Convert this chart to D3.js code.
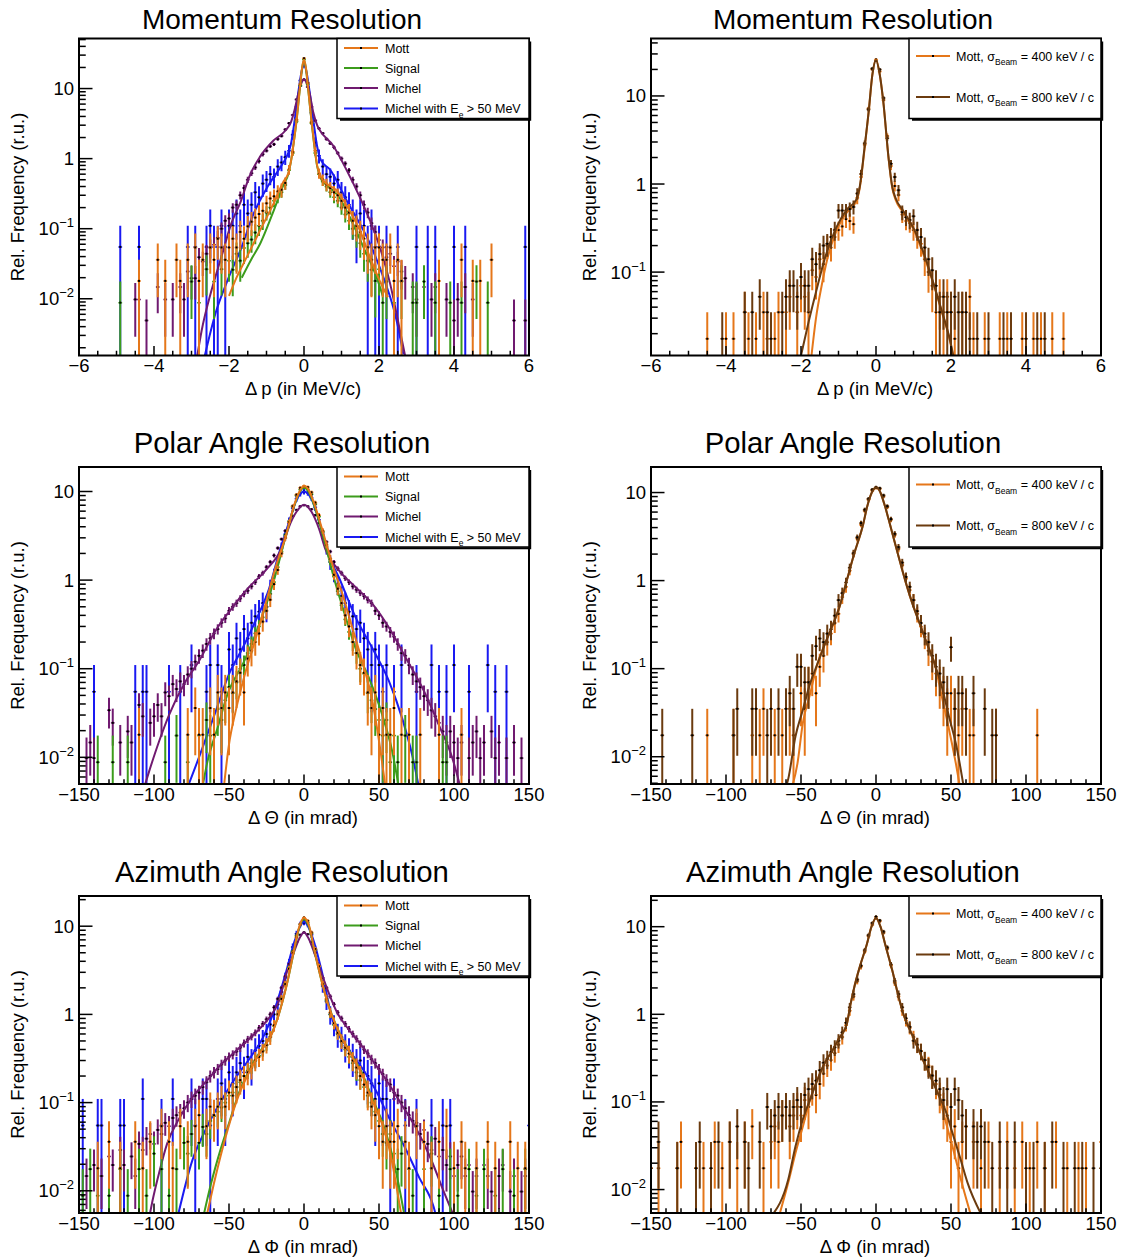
<!DOCTYPE html>
<html>
<head>
<meta charset="utf-8">
<script src="https://cdn.jsdelivr.net/npm/d3@7"></script>
<style>
  body { margin: 0; background: #fff; }
  svg { display: block; font-family: "Liberation Sans", Arial, Helvetica, sans-serif; }
</style>
</head>
<body>
<svg id="chart" width="1122" height="1260"></svg>
<script>
// ---------------------------------------------------------------
// Resolution histograms: bins are [centre, relative frequency].
// Error bars are Poisson errors: one entry of each sample weighs "unit".
// Fit curves are sampled as [x, value] points.
// ---------------------------------------------------------------

const unitMott = 0.018, unitSignal = 0.0088, unitMichel = 0.0049, unitMichelHi = 0.055, unitBeam = 0.0175;

const xTicksMom = [-6, -4, -2, 0, 2, 4, 6];
const xTicksAng = [-150, -100, -50, 0, 50, 100, 150];

// ---------------- Momentum, sample comparison ----------------
const momMott = [[-4.4,0.018],[-3.9,0.036],[-3.7,0.018],[-3.4,0.036],[-3.3,0.018],[-3.1,0.036],[-2.9,0.054],[-2.8,0.018],[-2.7,0.036],[-2.5,0.054],[-2.4,0.036],[-2.3,0.072],[-2.2,0.054],[-2.1,0.036],[-2.0,0.054],[-1.9,0.072],[-1.8,0.054],[-1.7,0.09],[-1.6,0.072],[-1.5,0.108],[-1.4,0.126],[-1.3,0.144],[-1.2,0.162],[-1.1,0.18],[-1.0,0.23],[-0.9,0.27],[-0.8,0.29],[-0.7,0.34],[-0.6,0.36],[-0.5,0.45],[-0.4,0.7],[-0.3,1.25],[-0.2,3.6],[-0.1,11.5],[0,27],[0.1,12],[0.2,3.3],[0.3,1.3],[0.4,0.62],[0.5,0.5],[0.6,0.43],[0.7,0.38],[0.8,0.33],[0.9,0.3],[1.0,0.25],[1.1,0.2],[1.2,0.17],[1.3,0.13],[1.4,0.11],[1.5,0.09],[1.6,0.072],[1.7,0.054],[1.8,0.036],[1.9,0.054],[2.0,0.054],[2.1,0.036],[2.2,0.036],[2.3,0.054],[2.4,0.018],[2.5,0.036],[2.6,0.018],[3.6,0.018],[4.2,0.036],[4.5,0.018],[4.7,0.018],[5.0,0.036]];
const momSignal = [[-4.9,0.0088],[-3.0,0.0176],[-2.8,0.0088],[-2.6,0.0264],[-2.4,0.0176],[-2.2,0.0264],[-2.0,0.035],[-1.9,0.026],[-1.8,0.044],[-1.7,0.035],[-1.6,0.053],[-1.5,0.062],[-1.4,0.07],[-1.3,0.088],[-1.2,0.11],[-1.1,0.13],[-1.0,0.17],[-0.9,0.2],[-0.8,0.25],[-0.7,0.28],[-0.6,0.33],[-0.5,0.42],[-0.4,0.68],[-0.3,1.2],[-0.2,3.4],[-0.1,11],[0,26],[0.1,11.5],[0.2,3.2],[0.3,1.2],[0.4,0.6],[0.5,0.47],[0.6,0.4],[0.7,0.33],[0.8,0.28],[0.9,0.25],[1.0,0.2],[1.1,0.16],[1.2,0.13],[1.3,0.1],[1.4,0.08],[1.5,0.062],[1.6,0.044],[1.7,0.035],[1.8,0.026],[1.9,0.018],[2.0,0.0264],[2.1,0.0088],[2.2,0.0176],[2.4,0.0088],[2.6,0.0176],[2.9,0.0088],[3.0,0.0088],[3.2,0.0176],[3.5,0.0088],[3.9,0.0088],[4.2,0.0088],[4.6,0.0176],[4.9,0.0088]];
const momMichel = [[-4.5,0.0098],[-4.4,0.0098],[-4.2,0.0049],[-3.9,0.0147],[-3.7,0.0098],[-3.5,0.0098],[-3.3,0.0147],[-3.2,0.0098],[-3.1,0.0245],[-3.0,0.0196],[-2.9,0.0196],[-2.8,0.039],[-2.7,0.034],[-2.6,0.044],[-2.5,0.054],[-2.4,0.059],[-2.3,0.074],[-2.2,0.1],[-2.1,0.13],[-2.0,0.14],[-1.9,0.2],[-1.8,0.22],[-1.7,0.3],[-1.6,0.38],[-1.5,0.5],[-1.4,0.62],[-1.3,0.75],[-1.2,0.92],[-1.1,1.15],[-1.0,1.3],[-0.9,1.5],[-0.8,1.6],[-0.7,1.9],[-0.6,2.1],[-0.5,2.6],[-0.4,3.2],[-0.3,4.2],[-0.2,7],[-0.1,11],[0,13.5],[0.1,10.5],[0.2,5.5],[0.3,3.5],[0.4,2.7],[0.5,2.3],[0.6,1.9],[0.7,1.65],[0.8,1.45],[0.9,1.2],[1.0,1.0],[1.1,0.85],[1.2,0.68],[1.3,0.5],[1.4,0.4],[1.5,0.3],[1.6,0.22],[1.7,0.17],[1.8,0.12],[1.9,0.09],[2.0,0.069],[2.1,0.054],[2.2,0.039],[2.3,0.044],[2.4,0.029],[2.5,0.034],[2.6,0.0245],[2.7,0.0196],[2.9,0.0147],[3.0,0.0098],[3.2,0.0147],[3.4,0.0098],[3.5,0.0147],[3.8,0.0098],[4.0,0.0049],[4.1,0.0098],[4.3,0.0147],[4.5,0.0098],[5.6,0.0049],[5.9,0.0049]];
const momMichelHi = [[-4.9,0.055],[-4.4,0.055],[-3.1,0.055],[-2.9,0.055],[-2.6,0.055],[-2.5,0.11],[-2.4,0.055],[-2.3,0.055],[-2.2,0.11],[-2.1,0.055],[-2.0,0.11],[-1.9,0.11],[-1.8,0.165],[-1.7,0.11],[-1.6,0.22],[-1.5,0.165],[-1.4,0.22],[-1.3,0.33],[-1.2,0.28],[-1.1,0.44],[-1.0,0.5],[-0.9,0.6],[-0.8,0.55],[-0.7,0.77],[-0.6,0.88],[-0.5,1.05],[-0.4,1.3],[-0.3,2.2],[-0.2,5.5],[-0.1,13],[0,21],[0.1,12],[0.2,4.5],[0.3,1.7],[0.4,1.1],[0.5,0.77],[0.6,0.6],[0.7,0.55],[0.8,0.44],[0.9,0.5],[1.0,0.33],[1.1,0.28],[1.2,0.22],[1.3,0.165],[1.4,0.11],[1.5,0.165],[1.6,0.11],[1.7,0.055],[1.8,0.11],[1.9,0.055],[2.0,0.055],[2.2,0.055],[2.5,0.055],[3.0,0.055],[3.3,0.055],[3.5,0.055],[4.0,0.055],[4.3,0.055],[5.9,0.055]];
const momMottFit = [[-2.0,0.011],[-1.8,0.02],[-1.53,0.039],[-1.17,0.095],[-0.81,0.23],[-0.55,0.47],[-0.42,0.62],[-0.35,0.9],[-0.28,1.6],[-0.2,3.5],[-0.12,9],[-0.05,20],[0,26],[0.05,20],[0.12,9],[0.2,3.5],[0.28,1.5],[0.35,0.8],[0.45,0.55],[0.56,0.46],[0.87,0.35],[1.22,0.18],[1.49,0.095],[1.76,0.039],[2.02,0.018],[2.24,0.0105]];
const momSignalFit = [[-1.66,0.02],[-1.4,0.037],[-1.17,0.061],[-0.81,0.18],[-0.55,0.42],[-0.42,0.6],[-0.35,0.9],[-0.28,1.6],[-0.2,3.4],[-0.12,8.8],[-0.05,19.5],[0,25.5],[0.05,19.5],[0.12,8.8],[0.2,3.4],[0.28,1.45],[0.35,0.78],[0.45,0.52],[0.6,0.42],[0.9,0.3],[1.22,0.147],[1.58,0.055],[1.94,0.02],[2.1,0.011]];
const momMichelFit = [[-2.85,0.0015],[-2.73,0.0035],[-2.47,0.013],[-2.2,0.04],[-1.94,0.118],[-1.68,0.25],[-1.46,0.55],[-1.18,1.05],[-0.82,1.8],[-0.5,2.5],[-0.35,3.3],[-0.25,5],[-0.15,8.5],[-0.07,12],[0,13.5],[0.07,12],[0.15,8.5],[0.25,4.5],[0.35,3],[0.43,2.5],[0.77,1.55],[1.14,0.68],[1.49,0.28],[1.76,0.13],[2.02,0.055],[2.29,0.017],[2.56,0.0035],[2.7,0.0015]];
const momMichelHiFit = [[-2.65,0.0015],[-2.36,0.0062],[-2.01,0.02],[-1.66,0.055],[-1.38,0.147],[-0.98,0.39],[-0.6,0.8],[-0.45,1.1],[-0.35,1.6],[-0.25,3.5],[-0.15,9],[-0.06,18],[0,21.5],[0.06,18],[0.15,9],[0.25,3.5],[0.35,1.5],[0.45,0.95],[0.69,0.7],[1.14,0.25],[1.76,0.061],[2.12,0.02],[2.47,0.0049],[2.65,0.0016]];

// ---------------- Momentum, beam spread comparison ----------------
const momBeam400 = [[-4.5,0.0175],[-4.0,0.0175],[-3.8,0.0175],[-3.5,0.035],[-3.4,0.0175],[-3.2,0.0175],[-3.0,0.035],[-2.9,0.0175],[-2.7,0.0175],[-2.6,0.035],[-2.4,0.035],[-2.3,0.0525],[-2.1,0.035],[-2.0,0.07],[-1.9,0.0525],[-1.8,0.035],[-1.7,0.105],[-1.6,0.088],[-1.5,0.14],[-1.4,0.123],[-1.3,0.2],[-1.2,0.19],[-1.1,0.25],[-1.0,0.3],[-0.9,0.33],[-0.8,0.4],[-0.7,0.38],[-0.6,0.35],[-0.5,0.7],[-0.4,1.2],[-0.3,2.8],[-0.2,7.2],[-0.1,20],[0,26],[0.1,19],[0.2,9],[0.3,3.5],[0.4,1.6],[0.5,0.95],[0.6,0.75],[0.7,0.45],[0.8,0.38],[0.9,0.36],[1.0,0.3],[1.1,0.25],[1.2,0.21],[1.3,0.14],[1.4,0.1],[1.5,0.07],[1.6,0.035],[1.7,0.0525],[1.8,0.035],[1.9,0.0525],[2.0,0.035],[2.1,0.0175],[2.3,0.035],[2.5,0.0525],[2.6,0.0175],[2.9,0.0175],[3.3,0.0175],[3.5,0.0175],[3.9,0.0175],[4.2,0.0175],[4.4,0.0175],[4.7,0.0175],[5.0,0.0175]];
const momBeam800 = [[-4.1,0.0175],[-3.5,0.035],[-3.3,0.035],[-3.1,0.0525],[-2.9,0.035],[-2.8,0.0175],[-2.5,0.035],[-2.4,0.0525],[-2.3,0.07],[-2.2,0.07],[-2.1,0.0525],[-2.0,0.088],[-1.9,0.07],[-1.8,0.07],[-1.7,0.14],[-1.6,0.123],[-1.5,0.16],[-1.4,0.2],[-1.3,0.21],[-1.2,0.25],[-1.1,0.3],[-1.0,0.5],[-0.9,0.5],[-0.8,0.5],[-0.7,0.52],[-0.6,0.55],[-0.5,0.78],[-0.4,1.3],[-0.3,2.9],[-0.2,7],[-0.1,20.5],[0,25],[0.1,20],[0.2,9.5],[0.3,3.3],[0.4,1.7],[0.5,1.2],[0.6,0.85],[0.7,0.48],[0.8,0.42],[0.9,0.39],[1.0,0.43],[1.1,0.3],[1.2,0.25],[1.3,0.19],[1.4,0.14],[1.5,0.105],[1.6,0.07],[1.7,0.035],[1.8,0.0525],[1.9,0.035],[2.0,0.035],[2.1,0.0525],[2.2,0.035],[2.3,0.035],[2.4,0.035],[2.5,0.0175],[2.7,0.0175],[3.0,0.0175],[3.4,0.0175],[3.6,0.0175],[4.0,0.0175],[4.3,0.0175],[4.5,0.0175]];
const momBeam400Fit = [[-1.72,0.0113],[-1.6,0.03],[-1.45,0.07],[-1.3,0.14],[-1.06,0.29],[-0.77,0.48],[-0.53,0.63],[-0.43,0.92],[-0.31,2.4],[-0.19,6.9],[-0.1,17],[0,26],[0.1,17.5],[0.19,8.9],[0.34,1.86],[0.43,0.92],[0.53,0.65],[0.72,0.48],[1.01,0.3],[1.26,0.16],[1.5,0.081],[1.74,0.037],[1.98,0.016],[2.05,0.0113]];
const momBeam800Fit = [[-2.0,0.0113],[-1.79,0.028],[-1.59,0.062],[-1.35,0.15],[-1.06,0.32],[-0.77,0.52],[-0.53,0.66],[-0.43,0.95],[-0.31,2.5],[-0.19,7],[-0.1,17],[0,25.5],[0.1,17.5],[0.19,9],[0.34,1.9],[0.43,0.95],[0.53,0.68],[0.72,0.5],[1.01,0.31],[1.26,0.17],[1.5,0.083],[1.74,0.038],[1.98,0.0165],[2.06,0.0113]];

// ---------------- Polar angle, sample comparison ----------------
const polMott = [[-110,0.018],[-77.5,0.018],[-72.5,0.036],[-70,0.018],[-67.5,0.018],[-62.5,0.036],[-60,0.018],[-57.5,0.054],[-55,0.036],[-52.5,0.054],[-50,0.036],[-47.5,0.054],[-45,0.072],[-42.5,0.09],[-40,0.054],[-37.5,0.13],[-35,0.16],[-32.5,0.2],[-30,0.25],[-27.5,0.34],[-25,0.45],[-22.5,0.6],[-20,0.9],[-17.5,1.3],[-15,2],[-12.5,3],[-10,4.5],[-7.5,6.8],[-5,9.2],[-2.5,11],[0,11.5],[2.5,11.2],[5,9.8],[7.5,7.5],[10,5.4],[12.5,3.6],[15,2.5],[17.5,1.75],[20,1.15],[22.5,0.8],[25,0.55],[27.5,0.4],[30,0.3],[32.5,0.2],[35,0.15],[37.5,0.11],[40,0.09],[42.5,0.054],[45,0.036],[47.5,0.054],[50,0.018],[52.5,0.036],[55,0.018],[57.5,0.018],[60,0.036],[65,0.018],[70,0.018],[77.5,0.018],[90,0.018],[105,0.018]];
const polSignal = [[-137.5,0.0088],[-127.5,0.0088],[-117.5,0.0088],[-92.5,0.0088],[-85,0.0176],[-77.5,0.0088],[-70,0.0176],[-65,0.0264],[-62.5,0.0176],[-57.5,0.035],[-55,0.0264],[-52.5,0.044],[-50,0.062],[-47.5,0.053],[-45,0.07],[-42.5,0.1],[-40,0.11],[-37.5,0.15],[-35,0.19],[-32.5,0.25],[-30,0.3],[-27.5,0.38],[-25,0.5],[-22.5,0.7],[-20,0.95],[-17.5,1.4],[-15,2.1],[-12.5,3.2],[-10,4.6],[-7.5,6.8],[-5,9],[-2.5,10.5],[0,11],[2.5,10.6],[5,9.3],[7.5,7.2],[10,5.2],[12.5,3.5],[15,2.4],[17.5,1.6],[20,1.1],[22.5,0.75],[25,0.52],[27.5,0.36],[30,0.26],[32.5,0.2],[35,0.15],[37.5,0.1],[40,0.088],[42.5,0.053],[45,0.044],[47.5,0.035],[50,0.0264],[52.5,0.0176],[55,0.0264],[57.5,0.0088],[60,0.0176],[62.5,0.0088],[67.5,0.0176],[72.5,0.0088],[75,0.0088],[92.5,0.0088],[95,0.0088]];
const polMichel = [[-145,0.0098],[-142.5,0.0147],[-140,0.0098],[-130,0.034],[-127.5,0.0245],[-122.5,0.0147],[-117.5,0.0196],[-115,0.0147],[-110,0.039],[-107.5,0.029],[-102.5,0.0245],[-100,0.029],[-97.5,0.039],[-95,0.029],[-92.5,0.054],[-90,0.049],[-87.5,0.067],[-85,0.059],[-82.5,0.072],[-80,0.067],[-77.5,0.086],[-75,0.1],[-72.5,0.12],[-70,0.14],[-67.5,0.16],[-65,0.19],[-62.5,0.22],[-60,0.25],[-57.5,0.28],[-55,0.33],[-52.5,0.37],[-50,0.45],[-47.5,0.5],[-45,0.55],[-42.5,0.62],[-40,0.7],[-37.5,0.76],[-35,0.85],[-32.5,0.95],[-30,1.1],[-27.5,1.2],[-25,1.4],[-22.5,1.6],[-20,1.9],[-17.5,2.3],[-15,2.9],[-12.5,3.6],[-10,4.4],[-7.5,5.3],[-5,6.2],[-2.5,6.8],[0,7],[2.5,6.8],[5,6.3],[7.5,5.4],[10,4.4],[12.5,3.5],[15,2.7],[17.5,2.1],[20,1.6],[22.5,1.35],[25,1.2],[27.5,1.05],[30,0.95],[32.5,0.85],[35,0.78],[37.5,0.72],[40,0.66],[42.5,0.6],[45,0.55],[47.5,0.45],[50,0.4],[52.5,0.33],[55,0.3],[57.5,0.26],[60,0.23],[62.5,0.19],[65,0.15],[67.5,0.14],[70,0.11],[72.5,0.086],[75,0.072],[77.5,0.062],[80,0.049],[82.5,0.044],[85,0.034],[87.5,0.029],[90,0.0245],[92.5,0.0196],[95,0.0147],[97.5,0.0196],[100,0.0147],[102.5,0.0098],[105,0.0147],[110,0.0098],[112.5,0.0147],[115,0.0196],[117.5,0.0098],[120,0.0147],[125,0.0196],[127.5,0.0098],[130,0.0147],[135,0.0098],[140,0.0147],[145,0.0098]];
const polMichelHi = [[-140,0.055],[-112.5,0.055],[-107.5,0.055],[-105,0.055],[-90,0.055],[-82.5,0.055],[-75,0.11],[-65,0.055],[-62.5,0.11],[-57.5,0.11],[-55,0.055],[-50,0.165],[-47.5,0.11],[-45,0.22],[-42.5,0.165],[-40,0.28],[-37.5,0.22],[-35,0.33],[-32.5,0.39],[-30,0.44],[-27.5,0.55],[-25,0.5],[-22.5,0.8],[-20,1.1],[-17.5,1.6],[-15,2.3],[-12.5,3.3],[-10,4.6],[-7.5,6.5],[-5,8.3],[-2.5,9.5],[0,10],[2.5,9.7],[5,8.5],[7.5,6.6],[10,4.8],[12.5,3.3],[15,2.3],[17.5,1.6],[20,1.2],[22.5,0.9],[25,0.66],[27.5,0.55],[30,0.44],[32.5,0.39],[35,0.28],[37.5,0.33],[40,0.22],[42.5,0.165],[45,0.11],[47.5,0.165],[50,0.11],[52.5,0.055],[55,0.11],[60,0.055],[65,0.11],[75,0.055],[85,0.11],[90,0.055],[95,0.055],[100,0.11],[110,0.055],[122.5,0.11],[127.5,0.055],[135,0.055]];
const polMottFit = [[-53.5,0.0045],[-50,0.014],[-45.6,0.033],[-38.9,0.093],[-32.2,0.22],[-25.6,0.54],[-18.9,1.4],[-12,3.2],[-6,7.5],[-3,10],[0,11.6],[3,10.5],[6,8],[12.2,3.7],[18.9,1.5],[25.6,0.7],[32.2,0.29],[38.9,0.12],[45.6,0.043],[51.1,0.0115],[54.4,0.0045]];
const polSignalFit = [[-67.8,0.0045],[-64.4,0.0089],[-57.8,0.021],[-51.1,0.051],[-40,0.12],[-28.9,0.35],[-20,1.0],[-12,3.2],[-6,7.3],[-3,9.8],[0,11],[3,10],[6,7.6],[12,3.5],[20,1.05],[27,0.42],[34.4,0.17],[43.3,0.079],[52.2,0.03],[58.9,0.0115],[63.3,0.0045]];
const polMichelFit = [[-106.7,0.0045],[-103.3,0.0069],[-96.7,0.015],[-90,0.03],[-78.9,0.072],[-70,0.122],[-58.9,0.27],[-47.8,0.49],[-36.7,0.83],[-25.6,1.29],[-14.4,2.4],[-10,4.0],[-5,5.9],[0,7.1],[5,5.9],[10,3.8],[14.4,2.2],[23.3,1.29],[34.4,0.83],[45.6,0.54],[56.7,0.29],[67.8,0.133],[78.9,0.061],[90,0.023],[98.9,0.0098],[104.4,0.0045]];
const polMichelHiFit = [[-77.8,0.0045],[-67.8,0.0126],[-58.9,0.033],[-50,0.087],[-41,0.17],[-32.2,0.35],[-23.3,0.8],[-16.7,2.0],[-10,4.5],[-5,8],[0,10],[5,8.2],[10,4.7],[16,2.0],[23.3,1.07],[34.4,0.38],[45.6,0.17],[56.7,0.072],[65.6,0.027],[72.2,0.0105],[76.7,0.0045]];

// ---------------- Polar angle, beam spread comparison ----------------
const polBeam400 = [[-112.5,0.0175],[-95,0.0175],[-82.5,0.0175],[-77.5,0.0175],[-75,0.035],[-67.5,0.0175],[-62.5,0.0175],[-57.5,0.035],[-55,0.0175],[-50,0.0525],[-47.5,0.035],[-45,0.07],[-42.5,0.088],[-40,0.0525],[-37.5,0.105],[-35,0.14],[-32.5,0.2],[-30,0.25],[-27.5,0.33],[-25,0.42],[-22.5,0.65],[-20,0.85],[-17.5,1.3],[-15,2.0],[-12.5,3.0],[-10,4.3],[-7.5,6.2],[-5,8.3],[-2.5,10.5],[0,11.3],[2.5,11],[5,9],[7.5,6.8],[10,4.9],[12.5,3.3],[15,2.3],[17.5,1.5],[20,1.05],[22.5,0.78],[25,0.6],[27.5,0.42],[30,0.3],[32.5,0.23],[35,0.16],[37.5,0.12],[40,0.088],[42.5,0.07],[45,0.0525],[47.5,0.035],[50,0.0525],[52.5,0.035],[55,0.0175],[57.5,0.035],[62.5,0.0175],[65,0.0175],[80,0.0175],[107.5,0.0175]];
const polBeam800 = [[-142.5,0.0175],[-122.5,0.0175],[-95,0.0175],[-92.5,0.035],[-82.5,0.035],[-80,0.035],[-72.5,0.0175],[-70,0.035],[-65,0.035],[-60,0.035],[-57.5,0.0525],[-55,0.035],[-52.5,0.105],[-50,0.105],[-47.5,0.07],[-45,0.07],[-42.5,0.14],[-40,0.18],[-37.5,0.22],[-35,0.2],[-32.5,0.25],[-30,0.28],[-27.5,0.4],[-25,0.6],[-22.5,0.72],[-20,0.95],[-17.5,1.4],[-15,2.05],[-12.5,3.1],[-10,4.5],[-7.5,6.4],[-5,8.5],[-2.5,10.8],[0,11.5],[2.5,11.2],[5,9.3],[7.5,7],[10,5],[12.5,3.4],[15,2.4],[17.5,1.6],[20,1.1],[22.5,0.85],[25,0.6],[27.5,0.45],[30,0.33],[32.5,0.25],[35,0.2],[37.5,0.14],[40,0.105],[42.5,0.088],[45,0.07],[47.5,0.0525],[50,0.175],[52.5,0.035],[55,0.0525],[57.5,0.0525],[60,0.035],[65,0.0525],[72.5,0.035],[77.5,0.0175],[80,0.0175]];
const polBeam400Fit = [[-56,0.0045],[-52.4,0.0083],[-48.8,0.024],[-43.9,0.052],[-39,0.114],[-34.1,0.19],[-29.3,0.3],[-24.4,0.5],[-19.5,1.0],[-14.6,2.0],[-8.5,4.4],[-6,6.8],[-2,10.6],[0,11.5],[2,10.8],[6,7.0],[8.5,4.9],[14.6,2.0],[19.5,1.0],[24.4,0.54],[29.3,0.32],[34.1,0.19],[39,0.115],[43.9,0.048],[48.8,0.02],[53.7,0.0076],[56,0.0045]];
const polBeam800Fit = [[-60,0.0045],[-58.5,0.0056],[-53.7,0.017],[-48.8,0.034],[-43.9,0.068],[-39,0.114],[-34.1,0.19],[-29.3,0.3],[-24.4,0.5],[-19.5,1.0],[-14.6,2.0],[-8.5,4.4],[-6,6.8],[-2,10.6],[0,11.5],[2,10.8],[6,7.0],[8.5,4.9],[14.6,2.0],[19.5,1.0],[24.4,0.54],[29.3,0.32],[34.1,0.19],[39,0.115],[43.9,0.062],[48.8,0.028],[53.7,0.013],[58.5,0.0045]];

// ---------------- Azimuth angle, sample comparison ----------------
const aziMott = [[-137.5,0.018],[-130,0.036],[-122.5,0.018],[-112.5,0.036],[-107.5,0.018],[-102.5,0.036],[-95,0.054],[-90,0.036],[-87.5,0.018],[-82.5,0.054],[-77.5,0.036],[-72.5,0.054],[-70,0.072],[-65,0.054],[-62.5,0.09],[-60,0.072],[-57.5,0.09],[-55,0.11],[-52.5,0.09],[-50,0.13],[-47.5,0.12],[-45,0.15],[-42.5,0.18],[-40,0.2],[-37.5,0.22],[-35,0.25],[-32.5,0.3],[-30,0.33],[-27.5,0.38],[-25,0.45],[-22.5,0.55],[-20,0.75],[-17.5,1.0],[-15,1.5],[-12.5,2.2],[-10,3.3],[-7.5,5],[-5,7.5],[-2.5,10.5],[0,12.5],[2.5,11.5],[5,8.5],[7.5,5.5],[10,3.5],[12.5,2.2],[15,1.5],[17.5,1.05],[20,0.8],[22.5,0.62],[25,0.5],[27.5,0.42],[30,0.36],[32.5,0.3],[35,0.25],[37.5,0.2],[40,0.16],[42.5,0.13],[45,0.09],[47.5,0.072],[50,0.054],[52.5,0.036],[55,0.054],[57.5,0.036],[60,0.036],[62.5,0.054],[67.5,0.036],[70,0.018],[75,0.054],[80,0.036],[85,0.018],[90,0.036],[95,0.054],[100,0.018],[105,0.036],[107.5,0.018],[115,0.018],[122.5,0.036],[127.5,0.018],[137.5,0.036],[142.5,0.018],[147.5,0.018]];
const aziSignal = [[-147.5,0.0088],[-142.5,0.0176],[-137.5,0.0088],[-130,0.0088],[-122.5,0.0176],[-117.5,0.0088],[-110,0.0176],[-105,0.0088],[-100,0.0264],[-95,0.0176],[-90,0.0088],[-85,0.0176],[-80,0.035],[-77.5,0.0264],[-75,0.044],[-70,0.035],[-67.5,0.053],[-65,0.044],[-62.5,0.062],[-60,0.07],[-57.5,0.079],[-55,0.088],[-52.5,0.1],[-50,0.12],[-47.5,0.13],[-45,0.15],[-42.5,0.17],[-40,0.2],[-37.5,0.23],[-35,0.26],[-32.5,0.3],[-30,0.34],[-27.5,0.39],[-25,0.45],[-22.5,0.56],[-20,0.74],[-17.5,1.0],[-15,1.5],[-12.5,2.2],[-10,3.4],[-7.5,5.2],[-5,7.8],[-2.5,10.5],[0,12],[2.5,11],[5,8.3],[7.5,5.4],[10,3.5],[12.5,2.2],[15,1.45],[17.5,1.0],[20,0.76],[22.5,0.6],[25,0.49],[27.5,0.4],[30,0.33],[32.5,0.28],[35,0.22],[37.5,0.18],[40,0.15],[42.5,0.12],[45,0.1],[47.5,0.079],[50,0.062],[52.5,0.044],[55,0.035],[57.5,0.044],[60,0.0264],[62.5,0.0176],[65,0.0264],[70,0.0176],[72.5,0.0088],[80,0.0176],[85,0.0264],[90,0.0088],[97.5,0.0176],[102.5,0.0088],[110,0.0176],[115,0.0088],[120,0.0176],[127.5,0.0088],[132.5,0.0176],[140,0.0088],[147.5,0.0176]];
const aziMichel = [[-150,0.0098],[-145,0.0147],[-140,0.0196],[-135,0.0147],[-130,0.0245],[-127.5,0.0196],[-122.5,0.029],[-120,0.0196],[-115,0.0245],[-112.5,0.0147],[-110,0.034],[-107.5,0.029],[-105,0.039],[-102.5,0.044],[-100,0.034],[-97.5,0.049],[-95,0.044],[-92.5,0.059],[-90,0.054],[-87.5,0.067],[-85,0.072],[-82.5,0.077],[-80,0.086],[-77.5,0.1],[-75,0.11],[-72.5,0.12],[-70,0.13],[-67.5,0.15],[-65,0.17],[-62.5,0.2],[-60,0.22],[-57.5,0.24],[-55,0.27],[-52.5,0.3],[-50,0.33],[-47.5,0.35],[-45,0.38],[-42.5,0.42],[-40,0.47],[-37.5,0.52],[-35,0.56],[-32.5,0.62],[-30,0.7],[-27.5,0.78],[-25,0.88],[-22.5,1.0],[-20,1.2],[-17.5,1.5],[-15,2.0],[-12.5,2.7],[-10,3.7],[-7.5,5],[-5,6.6],[-2.5,8],[0,8.5],[2.5,8.1],[5,6.6],[7.5,5],[10,3.6],[12.5,2.6],[15,2.0],[17.5,1.6],[20,1.3],[22.5,1.05],[25,0.9],[27.5,0.78],[30,0.68],[32.5,0.6],[35,0.53],[37.5,0.46],[40,0.4],[42.5,0.36],[45,0.31],[47.5,0.28],[50,0.24],[52.5,0.21],[55,0.18],[57.5,0.16],[60,0.13],[62.5,0.12],[65,0.1],[67.5,0.086],[70,0.072],[72.5,0.062],[75,0.059],[77.5,0.044],[80,0.049],[82.5,0.034],[85,0.029],[87.5,0.039],[90,0.0245],[92.5,0.029],[95,0.0196],[97.5,0.0245],[100,0.0147],[102.5,0.0196],[105,0.0245],[107.5,0.0147],[110,0.0196],[112.5,0.0098],[115,0.0147],[120,0.0196],[122.5,0.0147],[125,0.0098],[130,0.0147],[132.5,0.0196],[137.5,0.0098],[140,0.0147],[145,0.0098],[147.5,0.0147]];
const aziMichelHi = [[-147.5,0.055],[-137.5,0.055],[-135,0.055],[-122.5,0.055],[-120,0.055],[-107.5,0.11],[-95,0.055],[-87.5,0.11],[-75,0.11],[-72.5,0.055],[-67.5,0.11],[-65,0.11],[-62.5,0.055],[-57.5,0.11],[-55,0.165],[-52.5,0.11],[-50,0.22],[-47.5,0.165],[-45,0.22],[-42.5,0.28],[-40,0.22],[-37.5,0.33],[-35,0.28],[-32.5,0.39],[-30,0.44],[-27.5,0.5],[-25,0.6],[-22.5,0.77],[-20,1.0],[-17.5,1.3],[-15,1.8],[-12.5,2.6],[-10,3.8],[-7.5,5.8],[-5,8.2],[-2.5,10.5],[0,11],[2.5,10.5],[5,8],[7.5,5.5],[10,3.5],[12.5,2.1],[15,1.4],[17.5,1.0],[20,0.77],[22.5,0.6],[25,0.55],[27.5,0.44],[30,0.39],[32.5,0.33],[35,0.28],[37.5,0.3],[40,0.22],[42.5,0.2],[45,0.165],[47.5,0.11],[50,0.165],[52.5,0.11],[55,0.11],[57.5,0.055],[60,0.11],[67.5,0.055],[75,0.055],[85,0.055],[92.5,0.055],[97.5,0.055],[150,0.055]];
const aziMottFit = [[-64.9,0.0052],[-60.1,0.012],[-55.3,0.026],[-50.5,0.052],[-43.3,0.124],[-36,0.23],[-28.8,0.38],[-21.6,0.59],[-16.8,1.0],[-12,2.0],[-7,5],[-3.5,9.5],[0,12.5],[3.5,10],[7,5.3],[12,2.3],[16.8,1.19],[24,0.59],[31.3,0.35],[38.5,0.21],[45.7,0.104],[52.9,0.052],[57.7,0.026],[62.5,0.0092],[65,0.0052]];
const aziSignalFit = [[-67,0.0052],[-62,0.012],[-56,0.028],[-50.5,0.055],[-43.3,0.13],[-36,0.24],[-28.8,0.39],[-21.6,0.6],[-16.8,1.0],[-12,2.0],[-7,4.9],[-3.5,9.2],[0,12],[3.5,9.6],[7,5.2],[12,2.3],[16.8,1.2],[24,0.6],[31.3,0.36],[38.5,0.22],[45.7,0.11],[52.9,0.056],[57.7,0.03],[63,0.012],[67,0.0052]];
const aziMichelFit = [[-103,0.0052],[-101,0.0077],[-96.2,0.017],[-91.3,0.034],[-84.1,0.062],[-74.5,0.114],[-64.9,0.176],[-55.3,0.27],[-45.7,0.38],[-36,0.54],[-28.8,0.71],[-21.6,1.0],[-16.8,1.4],[-12,2.8],[-7.2,4.8],[-3,7.3],[0,8.5],[3,7.3],[7.2,4.8],[12,2.8],[16.8,1.7],[21.6,1.09],[28.8,0.71],[36,0.5],[45.7,0.3],[55.3,0.176],[64.9,0.096],[74.5,0.052],[84.1,0.024],[93.8,0.0092],[99.8,0.0052]];
const aziMichelHiFit = [[-84.1,0.0052],[-74.5,0.022],[-64.9,0.052],[-55.3,0.104],[-45.7,0.19],[-36,0.32],[-26.4,0.59],[-19.2,1.19],[-12,3.0],[-6,7],[0,11.2],[6,7.2],[12,3.0],[19.2,0.84],[28.8,0.42],[38.5,0.25],[48.1,0.135],[57.7,0.062],[67.3,0.031],[76.9,0.014],[86.5,0.0065],[88,0.0052]];

// ---------------- Azimuth angle, beam spread comparison ----------------
const aziBeam400 = [[-150,0.0175],[-145,0.0175],[-132.5,0.0175],[-130,0.035],[-120,0.0175],[-115,0.0175],[-107.5,0.035],[-102.5,0.0175],[-97.5,0.035],[-92.5,0.0175],[-87.5,0.035],[-82.5,0.0525],[-75,0.0175],[-70,0.035],[-67.5,0.0525],[-65,0.035],[-62.5,0.07],[-57.5,0.0525],[-55,0.07],[-52.5,0.088],[-50,0.07],[-47.5,0.105],[-45,0.088],[-42.5,0.14],[-40,0.12],[-37.5,0.16],[-35,0.21],[-32.5,0.26],[-30,0.3],[-27.5,0.36],[-25,0.45],[-22.5,0.55],[-20,0.75],[-17.5,1.1],[-15,1.6],[-12.5,2.4],[-10,3.5],[-7.5,5.2],[-5,7.8],[-2.5,10.5],[0,12.5],[2.5,11.5],[5,8.5],[7.5,5.6],[10,3.6],[12.5,2.3],[15,1.6],[17.5,1.1],[20,0.85],[22.5,0.7],[25,0.55],[27.5,0.45],[30,0.38],[32.5,0.3],[35,0.26],[37.5,0.2],[40,0.16],[42.5,0.12],[45,0.088],[47.5,0.07],[50,0.035],[52.5,0.0525],[55,0.0175],[57.5,0.035],[60,0.0525],[65,0.035],[70,0.0175],[75,0.035],[82.5,0.0175],[87.5,0.035],[92.5,0.0175],[97.5,0.035],[102.5,0.0175],[107.5,0.035],[112.5,0.0175],[120,0.035],[127.5,0.0175],[135,0.0175],[140,0.0175],[150,0.035]];
const aziBeam800 = [[-150,0.0175],[-145,0.035],[-132.5,0.0175],[-120,0.0175],[-117.5,0.035],[-110,0.0175],[-105,0.035],[-97.5,0.035],[-92.5,0.0525],[-87.5,0.035],[-85,0.0175],[-77.5,0.035],[-72.5,0.0875],[-70,0.0525],[-67.5,0.07],[-65,0.0875],[-62.5,0.07],[-60,0.0875],[-57.5,0.07],[-55,0.0875],[-52.5,0.105],[-50,0.0875],[-47.5,0.12],[-45,0.14],[-42.5,0.16],[-40,0.175],[-37.5,0.23],[-35,0.28],[-32.5,0.31],[-30,0.37],[-27.5,0.42],[-25,0.5],[-22.5,0.62],[-20,0.8],[-17.5,1.2],[-15,1.7],[-12.5,2.5],[-10,3.6],[-7.5,5.4],[-5,8],[-2.5,11],[0,13],[2.5,11.8],[5,8.8],[7.5,5.8],[10,3.7],[12.5,2.4],[15,1.7],[17.5,1.2],[20,0.9],[22.5,0.72],[25,0.5],[27.5,0.45],[30,0.38],[32.5,0.3],[35,0.25],[37.5,0.2],[40,0.175],[42.5,0.14],[45,0.105],[47.5,0.14],[50,0.0875],[52.5,0.14],[55,0.105],[57.5,0.07],[60,0.0525],[65,0.0525],[67.5,0.035],[70,0.0525],[72.5,0.035],[77.5,0.0175],[82.5,0.035],[87.5,0.0175],[92.5,0.035],[100,0.0175],[105,0.0175],[112.5,0.0175],[117.5,0.035],[125,0.0175],[132.5,0.0175],[137.5,0.0175],[145,0.0175],[150,0.0175]];
const aziBeam400Fit = [[-64.6,0.005],[-58.5,0.012],[-53.7,0.026],[-48.8,0.052],[-43.9,0.107],[-39,0.18],[-34.1,0.28],[-29.3,0.38],[-24.4,0.54],[-19.5,0.77],[-17,1.3],[-14.6,2.0],[-11,3.4],[-6.1,6.3],[-3,10],[0,12.5],[3,10],[6.1,6.3],[11,3.1],[14.6,1.7],[18.3,1.0],[22,0.7],[26.8,0.46],[31.7,0.29],[36.6,0.19],[41.5,0.123],[46.3,0.061],[51.2,0.03],[56.1,0.014],[63.4,0.005]];
const aziBeam800Fit = [[-69.5,0.005],[-58.5,0.013],[-53.7,0.031],[-48.8,0.063],[-43.9,0.107],[-39,0.18],[-34.1,0.28],[-29.3,0.38],[-24.4,0.54],[-19.5,0.77],[-17,1.3],[-14.6,2.0],[-11,3.4],[-6.1,6.3],[-3,10],[0,12.6],[3,10],[6.1,6.3],[11,3.1],[14.6,1.7],[18.3,1.0],[22,0.7],[26.8,0.46],[31.7,0.29],[36.6,0.19],[41.5,0.123],[46.3,0.08],[51.2,0.043],[56.1,0.023],[61,0.012],[70.7,0.005]];

// ---------------- styling ----------------
const colMott = '#e5771a', colSignal = '#3c9c1c', colMichel = '#701a70', colMichelHi = '#1a1af2';
const colBeam400 = '#e5771a', colBeam800 = '#6b3b0f';

const legendSamples = [
  { color: colMott, parts: [{ t: 'Mott' }] },
  { color: colSignal, parts: [{ t: 'Signal' }] },
  { color: colMichel, parts: [{ t: 'Michel' }] },
  { color: colMichelHi, parts: [{ t: 'Michel with E' }, { t: 'e', sub: true }, { t: ' > 50 MeV' }] }
];
const legendBeam = [
  { color: colBeam400, parts: [{ t: 'Mott, \u03c3' }, { t: 'Beam', sub: true }, { t: ' = 400 keV / c' }] },
  { color: colBeam800, parts: [{ t: 'Mott, \u03c3' }, { t: 'Beam', sub: true }, { t: ' = 800 keV / c' }] }
];

function samples(mott, signal, michel, michelHi, fits) {
  // drawn back to front: high-energy Michel first, Mott last
  return [
    { color: colMichelHi, unit: unitMichelHi, data: michelHi, fit: fits[3] },
    { color: colMichel, unit: unitMichel, data: michel, fit: fits[2] },
    { color: colSignal, unit: unitSignal, data: signal, fit: fits[1] },
    { color: colMott, unit: unitMott, data: mott, fit: fits[0] }
  ];
}
function beams(b400, b800, f400, f800) {
  return [
    { color: colBeam400, unit: unitBeam, data: b400, fit: f400 },
    { color: colBeam800, unit: unitBeam, data: b800, fit: f800 }
  ];
}

const leftX = [79, 529], rightX = [651, 1101];
const rows = [
  { top: 38.5, bottom: 355.5, titleY: 29, titleSize: 28 },
  { top: 467, bottom: 784, titleY: 453, titleSize: 29.3 },
  { top: 896, bottom: 1213, titleY: 882, titleSize: 29.3 }
];

const panels = [
  { cols: leftX, row: rows[0], titleX: 282, title: 'Momentum Resolution', xTitle: '\u0394 p (in MeV/c)',
    xDomain: [-6, 6], yDomain: [0.00155, 51.8], xTicks: xTicksMom, xMinor: 0.5, binWidth: 0.1,
    legend: legendSamples, legendKind: 'samples',
    series: samples(momMott, momSignal, momMichel, momMichelHi, [momMottFit, momSignalFit, momMichelFit, momMichelHiFit]) },
  { cols: rightX, row: rows[0], titleX: 853, title: 'Momentum Resolution', xTitle: '\u0394 p (in MeV/c)',
    xDomain: [-6, 6], yDomain: [0.0113, 44.9], xTicks: xTicksMom, xMinor: 0.5, binWidth: 0.1,
    legend: legendBeam, legendKind: 'beam',
    series: beams(momBeam400, momBeam800, momBeam400Fit, momBeam800Fit) },
  { cols: leftX, row: rows[1], titleX: 282, title: 'Polar Angle Resolution', xTitle: '\u0394 \u0398 (in mrad)',
    xDomain: [-150, 150], yDomain: [0.0050, 18.9], xTicks: xTicksAng, xMinor: 10, binWidth: 2.5,
    legend: legendSamples, legendKind: 'samples',
    series: samples(polMott, polSignal, polMichel, polMichelHi, [polMottFit, polSignalFit, polMichelFit, polMichelHiFit]) },
  { cols: rightX, row: rows[1], titleX: 853, title: 'Polar Angle Resolution', xTitle: '\u0394 \u0398 (in mrad)',
    xDomain: [-150, 150], yDomain: [0.0049, 19.5], xTicks: xTicksAng, xMinor: 10, binWidth: 2.5,
    legend: legendBeam, legendKind: 'beam',
    series: beams(polBeam400, polBeam800, polBeam400Fit, polBeam800Fit) },
  { cols: leftX, row: rows[2], titleX: 282, title: 'Azimuth Angle Resolution', xTitle: '\u0394 \u03a6 (in mrad)',
    xDomain: [-150, 150], yDomain: [0.0056, 22], xTicks: xTicksAng, xMinor: 10, binWidth: 2.5,
    legend: legendSamples, legendKind: 'samples',
    series: samples(aziMott, aziSignal, aziMichel, aziMichelHi, [aziMottFit, aziSignalFit, aziMichelFit, aziMichelHiFit]) },
  { cols: rightX, row: rows[2], titleX: 853, title: 'Azimuth Angle Resolution', xTitle: '\u0394 \u03a6 (in mrad)',
    xDomain: [-150, 150], yDomain: [0.0054, 22.4], xTicks: xTicksAng, xMinor: 10, binWidth: 2.5,
    legend: legendBeam, legendKind: 'beam',
    series: beams(aziBeam400, aziBeam800, aziBeam400Fit, aziBeam800Fit) }
];

const svg = d3.select('#chart');
const defs = svg.append('defs');

const minus = v => (v < 0 ? '\u2212' + Math.abs(v) : String(v));

// legend text with subscripts: each run is its own tspan, shifted down for subscripts
function addParts(textSel, parts, fontSize) {
  let shift = 0;
  parts.forEach(p => {
    const ts = textSel.append('tspan').text(p.t);
    if (p.sub) {
      ts.attr('dy', 4.5).attr('font-size', fontSize * 0.68);
      shift = 4.5;
    } else if (shift) {
      ts.attr('dy', -shift);
      shift = 0;
    }
  });
}

function drawPanel(p, idx) {
  const [left, right] = p.cols;
  const { top, bottom } = p.row;
  const x = d3.scaleLinear().domain(p.xDomain).range([left, right]);
  const y = d3.scaleLog().domain(p.yDomain).range([bottom, top]);
  const g = svg.append('g');

  // title
  g.append('text').attr('x', p.titleX).attr('y', p.row.titleY)
    .attr('text-anchor', 'middle').attr('font-size', p.row.titleSize).attr('fill', '#000').text(p.title);

  // plot area
  const clipId = 'clip' + idx;
  defs.append('clipPath').attr('id', clipId).append('rect')
    .attr('x', left).attr('y', top).attr('width', right - left).attr('height', bottom - top);
  const plot = g.append('g').attr('clip-path', `url(#${clipId})`);

  const ymin = p.yDomain[0];
  const half = p.binWidth / 2;
  const line = d3.line().x(d => x(d[0])).y(d => y(d[1])).curve(d3.curveMonotoneX);

  p.series.forEach(s => {
    const sg = plot.append('g');
    const pts = s.data.map(([c, v]) => {
      const err = Math.sqrt(v * s.unit);
      return { c, v, hi: v + err, lo: v - err };
    });
    sg.selectAll('line.ev').data(pts).join('line').attr('class', 'ev')
      .attr('x1', d => x(d.c)).attr('x2', d => x(d.c))
      .attr('y1', d => y(d.hi))
      .attr('y2', d => (d.lo > ymin ? y(d.lo) : bottom + 4))
      .attr('stroke', s.color).attr('stroke-width', 2);
    sg.selectAll('line.eh').data(pts.filter(d => d.v > ymin)).join('line').attr('class', 'eh')
      .attr('x1', d => x(d.c - half)).attr('x2', d => x(d.c + half))
      .attr('y1', d => y(d.v)).attr('y2', d => y(d.v))
      .attr('stroke', s.color).attr('stroke-width', 1.5);
    sg.selectAll('rect.mk').data(pts.filter(d => d.v > ymin)).join('rect').attr('class', 'mk')
      .attr('x', d => x(d.c) - 1).attr('y', d => y(d.v) - 1)
      .attr('width', 2).attr('height', 2).attr('fill', '#000');
    sg.append('path').datum(s.fit).attr('d', line)
      .attr('fill', 'none').attr('stroke', s.color).attr('stroke-width', 2);
  });

  // frame
  g.append('rect').attr('x', left).attr('y', top).attr('width', right - left).attr('height', bottom - top)
    .attr('fill', 'none').attr('stroke', '#000').attr('stroke-width', 2);

  // x axis ticks (inside the frame) and labels
  const xMinorVals = d3.range(p.xDomain[0], p.xDomain[1] + p.xMinor / 2, p.xMinor)
    .filter(v => !p.xTicks.some(t => Math.abs(t - v) < 1e-9));
  g.selectAll('line.xmin').data(xMinorVals).join('line')
    .attr('x1', d => x(d)).attr('x2', d => x(d)).attr('y1', bottom).attr('y2', bottom - 4.75)
    .attr('stroke', '#000').attr('stroke-width', 1.5);
  g.selectAll('line.xmaj').data(p.xTicks).join('line')
    .attr('x1', d => x(d)).attr('x2', d => x(d)).attr('y1', bottom).attr('y2', bottom - 9.5)
    .attr('stroke', '#000').attr('stroke-width', 1.5);
  g.selectAll('text.xl').data(p.xTicks).join('text')
    .attr('x', d => x(d)).attr('y', bottom + 16.5).attr('text-anchor', 'middle')
    .attr('font-size', 18.5).attr('fill', '#000').text(d => minus(d));

  // y axis (log) ticks and decade labels
  const lo = Math.floor(Math.log10(p.yDomain[0])), hi = Math.ceil(Math.log10(p.yDomain[1]));
  const yMinorVals = [], yMajorVals = [];
  for (let e = lo; e <= hi; e++) {
    for (let k = 1; k <= 9; k++) {
      const v = k * Math.pow(10, e);
      if (v < p.yDomain[0] * 0.9999 || v > p.yDomain[1]) continue;
      (k === 1 ? yMajorVals : yMinorVals).push(v);
    }
  }
  g.selectAll('line.ymin').data(yMinorVals).join('line')
    .attr('x1', left).attr('x2', left + 6.75).attr('y1', d => y(d)).attr('y2', d => y(d))
    .attr('stroke', '#000').attr('stroke-width', 1.5);
  g.selectAll('line.ymaj').data(yMajorVals).join('line')
    .attr('x1', left).attr('x2', left + 13.5).attr('y1', d => y(d)).attr('y2', d => y(d))
    .attr('stroke', '#000').attr('stroke-width', 1.5);
  g.selectAll('text.yl').data(yMajorVals).join('text')
    .attr('x', left - 5).attr('y', d => y(d) + 6.5).attr('text-anchor', 'end')
    .attr('font-size', 18.5).attr('fill', '#000')
    .each(function (d) {
      const e = Math.round(Math.log10(d));
      const t = d3.select(this);
      if (e === 0) t.text('1');
      else if (e === 1) t.text('10');
      else {
        t.append('tspan').text('10');
        t.append('tspan').attr('dy', -8).attr('font-size', 13).text('\u2212' + Math.abs(e));
      }
    });

  // axis titles
  g.append('text').attr('x', (left + right) / 2 - 1).attr('y', bottom + 39.5)
    .attr('text-anchor', 'middle').attr('font-size', 18.5).attr('fill', '#000').text(p.xTitle);
  const ytx = left - 55, yty = (top + bottom) / 2;
  g.append('text').attr('transform', `translate(${ytx},${yty}) rotate(-90)`)
    .attr('text-anchor', 'middle').attr('font-size', 18.5).attr('fill', '#000').text('Rel. Frequency (r.u.)');

  // legend
  const lx0 = right - 192, lx1 = right, ly0 = top, ly1 = top + 80;
  const lg = g.append('g');
  lg.append('path')
    .attr('d', `M${lx0 + 3},${ly1 + 1.2}H${lx1 + 1.2}V${ly0 + 3}`)
    .attr('fill', 'none').attr('stroke', '#000').attr('stroke-width', 2);
  lg.append('rect').attr('x', lx0).attr('y', ly0).attr('width', lx1 - lx0).attr('height', ly1 - ly0)
    .attr('fill', '#fff').attr('stroke', '#000').attr('stroke-width', 1.5);
  const offsets = p.legendKind === 'samples' ? [9.5, 29.5, 49.5, 70] : [17.5, 58.5];
  const sx0 = lx0 + 7;
  const sx1 = sx0 + 34;
  const tx = p.legendKind === 'samples' ? lx0 + 48 : lx0 + 47;
  p.legend.forEach((item, i) => {
    const ey = ly0 + offsets[i];
    lg.append('line').attr('x1', sx0).attr('x2', sx1).attr('y1', ey).attr('y2', ey)
      .attr('stroke', item.color).attr('stroke-width', 2);
    lg.append('rect').attr('x', (sx0 + sx1) / 2 - 1).attr('y', ey - 1).attr('width', 2).attr('height', 2).attr('fill', '#000');
    const t = lg.append('text').attr('x', tx).attr('y', ey + 4.5).attr('font-size', 12.5).attr('fill', '#000');
    addParts(t, item.parts, 12.5);
  });
}

panels.forEach(drawPanel);
</script>
</body>
</html>
